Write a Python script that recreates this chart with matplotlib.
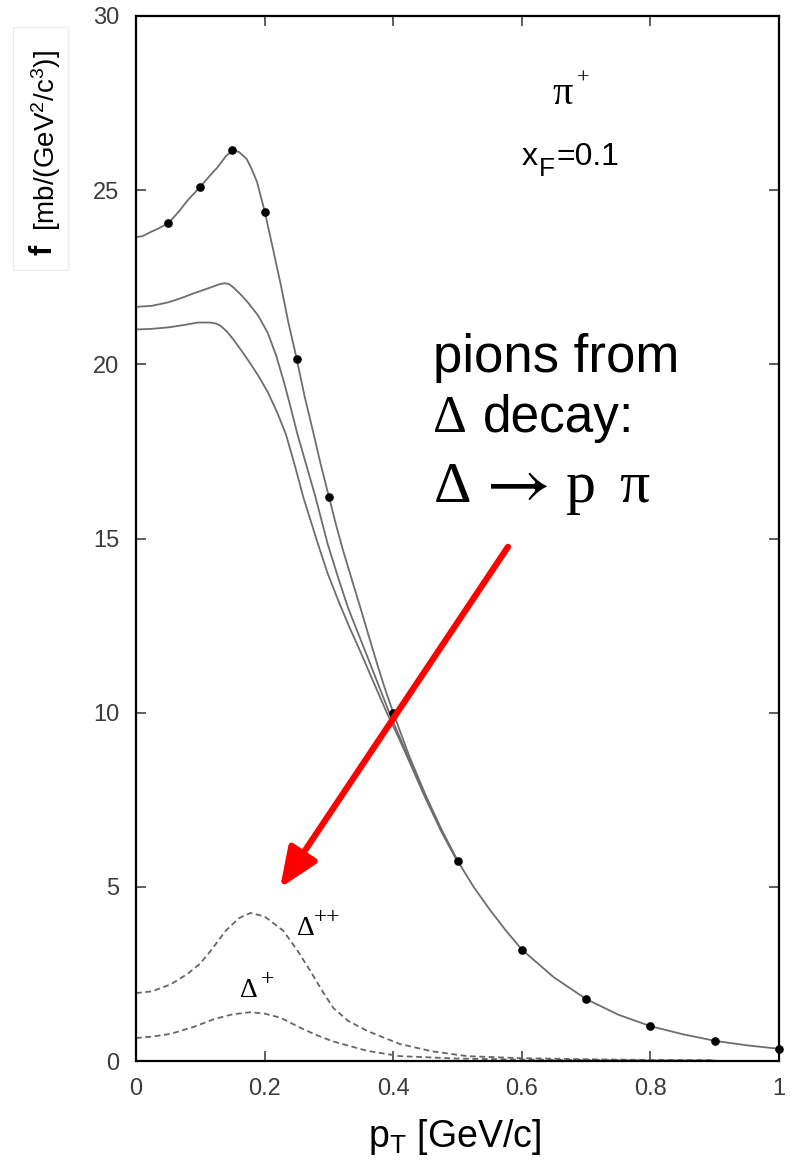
import matplotlib
matplotlib.use("Agg")
from matplotlib import pyplot as plt
from matplotlib.patches import FancyArrowPatch, Rectangle
import numpy as np

plt.rcParams['font.family'] = ['Liberation Sans', 'DejaVu Sans']
plt.rcParams['mathtext.fontset'] = 'custom'
plt.rcParams['mathtext.rm'] = 'Liberation Sans'
plt.rcParams['mathtext.it'] = 'Liberation Sans:italic'

# total pi+ spectrum (line) and its data points
pt_main = [0, 0.01, 0.023, 0.035, 0.05, 0.065, 0.08, 0.1, 0.115, 0.127, 0.14, 0.15,
           0.16, 0.172, 0.18, 0.188, 0.2, 0.212, 0.225, 0.237, 0.25, 0.262, 0.275,
           0.287, 0.3, 0.311, 0.322, 0.336, 0.35, 0.362, 0.375, 0.387, 0.4, 0.425,
           0.45, 0.475, 0.5, 0.525, 0.55, 0.575, 0.6, 0.65, 0.7, 0.75, 0.8, 0.85,
           0.9, 0.95, 1.0]
f_main = [23.65, 23.68, 23.8, 23.9, 24.05, 24.35, 24.7, 25.1, 25.42, 25.66, 25.98, 26.15,
          26.1, 25.9, 25.6, 25.25, 24.4, 23.4, 22.3, 21.2, 20.15, 19.1, 18.1,
          17.15, 16.2, 15.4, 14.66, 13.8, 12.95, 12.2, 11.4, 10.7, 10.0, 8.75,
          7.65, 6.65, 5.75, 5.0, 4.35, 3.75, 3.2, 2.4, 1.78, 1.33, 1.0, 0.77,
          0.58, 0.45, 0.35]

pt_dots = [0.05, 0.1, 0.15, 0.2, 0.25, 0.3, 0.4, 0.5, 0.6, 0.7, 0.8, 0.9, 1.0]
f_dots = [24.05, 25.1, 26.15, 24.37, 20.14, 16.18, 10.0, 5.75, 3.19, 1.77, 1.0, 0.57, 0.34]

# two other solid curves
pt_a = [0, 0.025, 0.05, 0.07, 0.09, 0.115, 0.13, 0.138, 0.145, 0.152, 0.162, 0.173,
        0.19, 0.205, 0.218, 0.23, 0.24, 0.251, 0.265, 0.279, 0.298, 0.314, 0.33,
        0.345, 0.36, 0.378, 0.395, 0.41, 0.425, 0.45, 0.475, 0.5]
f_a = [21.65, 21.68, 21.78, 21.9, 22.04, 22.2, 22.3, 22.33, 22.3, 22.2, 22.02, 21.8,
       21.4, 20.9, 20.25, 19.5, 18.8, 18.0, 17.1, 16.2, 14.85, 13.9, 13.0,
       12.3, 11.6, 10.75, 9.95, 9.3, 8.65, 7.6, 6.62, 5.75]

pt_b = [0, 0.025, 0.05, 0.075, 0.096, 0.115, 0.125, 0.132, 0.142, 0.152, 0.163, 0.175,
        0.19, 0.205, 0.22, 0.233, 0.247, 0.26, 0.282, 0.298, 0.315, 0.332, 0.349,
        0.37, 0.39, 0.408, 0.425, 0.45, 0.475, 0.5]
f_b = [21.0, 21.02, 21.06, 21.13, 21.2, 21.2, 21.17, 21.1, 20.93, 20.7, 20.42, 20.1,
       19.68, 19.2, 18.6, 18.0, 17.1, 16.2, 14.9, 14.0, 13.2, 12.45, 11.75,
       10.85, 10.0, 9.3, 8.6, 7.55, 6.58, 5.72]

# Delta contributions (dashed)
pt_dpp = [0, 0.025, 0.054, 0.08, 0.1, 0.116, 0.14, 0.16, 0.178, 0.2, 0.229, 0.25,
          0.271, 0.29, 0.307, 0.33, 0.36, 0.41, 0.46, 0.515, 0.6, 0.7, 0.8, 0.9]
f_dpp = [1.95, 2.0, 2.2, 2.5, 2.8, 3.16, 3.75, 4.1, 4.25, 4.15, 3.74, 3.2,
         2.59, 2.0, 1.52, 1.15, 0.86, 0.49, 0.28, 0.14, 0.08, 0.05, 0.03, 0.02]

pt_dp = [0, 0.025, 0.054, 0.09, 0.121, 0.15, 0.178, 0.2, 0.225, 0.256, 0.28, 0.305,
         0.36, 0.41, 0.5, 0.6, 0.7, 0.8, 0.9]
f_dp = [0.66, 0.7, 0.78, 0.98, 1.2, 1.34, 1.4, 1.36, 1.24, 0.95, 0.75, 0.57,
        0.29, 0.14, 0.07, 0.04, 0.03, 0.02, 0.02]

x_ticks = [0, 0.2, 0.4, 0.6, 0.8, 1]
x_ticklabels = ['0', '0.2', '0.4', '0.6', '0.8', '1']
y_ticks = [0, 5, 10, 15, 20, 25, 30]

W, H = 794, 1165
fig = plt.figure(figsize=(W / 100, H / 100), dpi=100)
ax = fig.add_axes([136 / W, 1 - 1061 / H, 643 / W, 1045 / H])

line_col = '#6e6e6e'
ax.plot(pt_b, f_b, color=line_col, lw=1.3)
ax.plot(pt_a, f_a, color=line_col, lw=1.3)
ax.plot(pt_main, f_main, color=line_col, lw=1.3)
ax.plot(pt_dots, f_dots, 'o', color='black', ms=5.2, clip_on=False, zorder=5)
ax.plot(pt_dpp, f_dpp, color='#666666', lw=1.3, dashes=(3.2, 2.0))
ax.plot(pt_dp, f_dp, color='#666666', lw=1.3, dashes=(3.2, 2.0))

ax.set_xlim(0, 1)
ax.set_ylim(0, 30)
ax.set_xticks(x_ticks)
ax.set_xticklabels(x_ticklabels)
ax.set_yticks(y_ticks)
ax.tick_params(direction='in', length=7, width=1.1, top=True, right=True,
               labelsize=17, labelcolor='#3c3c3c', color='#333333')
ax.tick_params(axis='y', pad=12)
ax.tick_params(axis='x', pad=12)
for s in ax.spines.values():
    s.set_linewidth(1.6)

serif = ['Liberation Serif', 'DejaVu Serif']
data_pt = lambda px: (px - 136) / 643
data_f = lambda py: (1061 - py) / (1045 / 30)

# labels inside the plot
ax.text(data_pt(552), data_f(104), 'π', fontsize=29, family=serif, va='baseline')
ax.text(data_pt(577), data_f(84), '+', fontsize=16, family=serif, va='baseline')
ax.text(data_pt(522), data_f(165), 'x', fontsize=23, va='baseline')
ax.text(data_pt(539), data_f(176), 'F', fontsize=19, va='baseline')
ax.text(data_pt(556), data_f(165), '=0.1', fontsize=23, va='baseline')

ax.text(data_pt(297), data_f(935), 'Δ', fontsize=20, family=serif, va='baseline')
ax.text(data_pt(314), data_f(923), '++', fontsize=17, family=serif, va='baseline')
ax.text(data_pt(240), data_f(997), 'Δ', fontsize=20, family=serif, va='baseline')
ax.text(data_pt(261), data_f(985), '+', fontsize=17, family=serif, va='baseline')

ax.text(data_pt(433), data_f(372), 'pions from', fontsize=38, va='baseline')
ax.text(data_pt(433), data_f(432), 'Δ', fontsize=38, family=serif, va='baseline')
ax.text(data_pt(483), data_f(432), 'decay:', fontsize=37, va='baseline')
ax.text(data_pt(434), data_f(502), 'Δ', fontsize=42, family=serif, va='baseline')
ax.text(data_pt(475), data_f(503), r'$\rightarrow$', fontsize=51,
        math_fontfamily='stix', va='baseline')
ax.text(data_pt(566), data_f(502), 'p', fontsize=43, family=serif, va='baseline')
ax.text(data_pt(619), data_f(502), 'π', fontsize=43, family=serif, va='baseline')

arrow = FancyArrowPatch((0.5785, 14.76), (0.224, 4.97),
                        arrowstyle='-|>,head_length=1.2,head_width=0.5',
                        mutation_scale=20, color='#ff0000', lw=4.5,
                        shrinkA=0, shrinkB=0, zorder=6)
ax.add_patch(arrow)

# axis titles
fig.text(46 / W, 1 - 231 / H, r'[mb/(GeV$^2$/c$^3$)]', fontsize=20, rotation=90,
         ha='center', va='bottom')
fig.text(43 / W, 1 - 250 / H, 'f', fontsize=22, fontweight='bold', rotation=90,
         ha='center', va='center')
fig.text(455 / W, 1 - 1147 / H, r'p$_\mathrm{T}$ [GeV/c]', fontsize=27,
         ha='center', va='baseline')

# faint frame around the pasted y label
fig.add_artist(Rectangle((13 / W, 1 - 270 / H), 55 / W, 243 / H,
                         transform=fig.transFigure, fill=False,
                         edgecolor='#ececec', lw=1))

fig.savefig('out.png', dpi=100)
